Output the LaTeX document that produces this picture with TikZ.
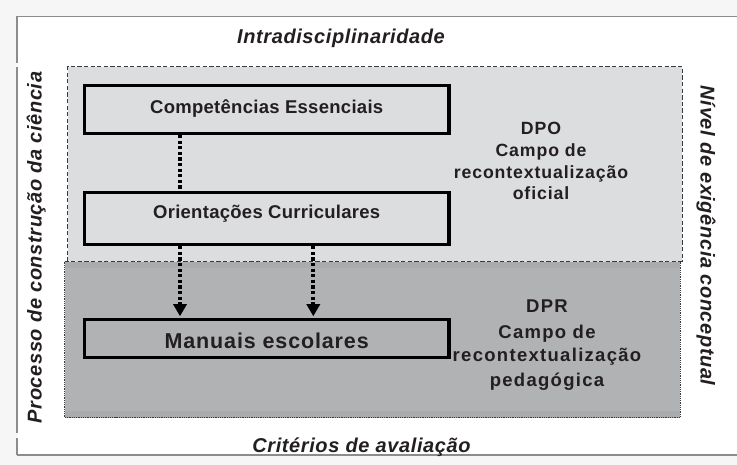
\documentclass[tikz,border=0pt]{standalone}
\usepackage{fontspec}
\setmainfont{Liberation Sans}
\newfontfamily\fA[LetterSpace=3]{Liberation Sans}
\newfontfamily\fB[LetterSpace=1.5]{Liberation Sans}
\newfontfamily\fC[LetterSpace=5]{Liberation Sans}
\newfontfamily\fD[LetterSpace=7]{Liberation Sans}
\newfontfamily\fE[LetterSpace=4]{Liberation Sans}
\usetikzlibrary{arrows.meta}
\definecolor{ink}{HTML}{231F20}
\definecolor{lightg}{HTML}{DCDDDF}
\definecolor{darkg}{HTML}{B1B2B4}
\definecolor{darkband}{HTML}{AAABAD}
\definecolor{framec}{HTML}{8C8C8C}
\definecolor{bgc}{HTML}{F6F6F6}
\definecolor{borderc}{HTML}{3A3A3A}
\begin{document}
\begin{tikzpicture}[x=1pt,y=-1pt,
  stagebox/.style={draw=black,line width=3.3pt,inner sep=0pt,minimum width=364.6pt,text=ink,
    font=\fB\bfseries\fontsize{18.5}{22}\selectfont},
  dotlink/.style={line width=3.8pt,dash pattern=on 3.3pt off 2.3pt},
  arrowlink/.style={dotlink,-{Triangle[length=12pt,width=13pt]},shorten >=1.6pt},
  sidelabel/.style={font=\fA\bfseries\itshape\fontsize{20}{24}\selectfont,text=ink,inner sep=0pt,anchor=base},
  dpotext/.style={font=\fC\bfseries\fontsize{17.7}{21.7}\selectfont,text=ink,inner sep=0pt,anchor=base},
  dprtext/.style={font=\fD\bfseries\fontsize{18.5}{24}\selectfont,text=ink,inner sep=0pt,anchor=base},
  framel/.style={draw=framec,line width=1.3pt},
  dpoborder/.style={draw=borderc,line width=0.9pt,dash pattern=on 4.3pt off 2.3pt},
  dprborder/.style={draw=borderc,line width=0.8pt,dash pattern=on 1pt off 0.8pt}]
\useasboundingbox (0,0) rectangle (737,465);
% background and outer frame
\fill[bgc] (0,0) rectangle (737,465);
\fill[white] (17,16.3) rectangle (737,455);
\draw[framel] (17,16.3) -- (737,16.3);
\draw[framel] (17,455) -- (737,455);
\draw[framel] (17,16.3) -- (17,63);
\draw[framel] (17,67) -- (17,433);
\draw[framel] (17,438) -- (17,455);
% DPR field
\fill[darkg] (64.5,261.7) rectangle (680,417.7);
\fill[darkband] (64.5,261.7) rectangle (680,268);
\fill[darkband] (64.5,410.5) rectangle (680,417.7);
\draw[dprborder] (64.5,261.7) -- (64.5,417.7) -- (680,417.7) -- (680,261.7);
% DPO field
\fill[lightg] (67.7,66.7) rectangle (682.3,261.7);
\draw[dpoborder] (67.7,261.7) -- (67.7,66.7) -- (682.3,66.7) -- (682.3,261.7);
\draw[dpoborder] (64.5,261.7) -- (682.3,261.7);
% side labels
\node[sidelabel] (top) at (341,43.5) {Intradisciplinaridade};
\node[sidelabel] (bottom) at (361.5,452.5) {Critérios de avaliação};
\node[sidelabel,rotate=90] (left) at (41.7,247.5) {Processo de construção da ciência};
\node[sidelabel,rotate=-90] (right) at (700.5,235.7) {Nível de exigência conceptual};
% boxes
\node[stagebox,fill=lightg,minimum height=47.6pt,text height=12.6pt,text depth=5pt] (ce) at (266.7,109.5) {Competências Essenciais};
\node[stagebox,fill=lightg,minimum height=51.8pt,text height=6pt,text depth=6.6pt] (oc) at (266.7,218.6) {Orientações Curriculares};
\node[stagebox,fill=darkg,minimum height=38pt,text height=22pt,text depth=1.6pt,font=\fE\bfseries\fontsize{21.5}{26}\selectfont] (mn) at (266.7,338.5) {Manuais escolares};
% connectors
\coordinate (xa) at (180,0);
\coordinate (xb) at (313.3,0);
\draw[dotlink] (ce.south -| xa) -- (oc.north -| xa);
\draw[arrowlink] (oc.south -| xa) -- (mn.north -| xa);
\draw[arrowlink] (oc.south -| xb) -- (mn.north -| xb);
% field texts
\node[dpotext] (dpo1) at (541,135) {DPO};
\node[dpotext] (dpo2) at (541,156.7) {Campo de};
\node[dpotext] (dpo3) at (541,178.3) {recontextualização};
\node[dpotext] (dpo4) at (541,200) {oficial};
\node[dprtext] (dpr1) at (547,313) {DPR};
\node[dprtext] (dpr2) at (547,338) {Campo de};
\node[dprtext] (dpr3) at (547,362) {recontextualização};
\node[dprtext] (dpr4) at (547,386) {pedagógica};
\end{tikzpicture}
\end{document}
